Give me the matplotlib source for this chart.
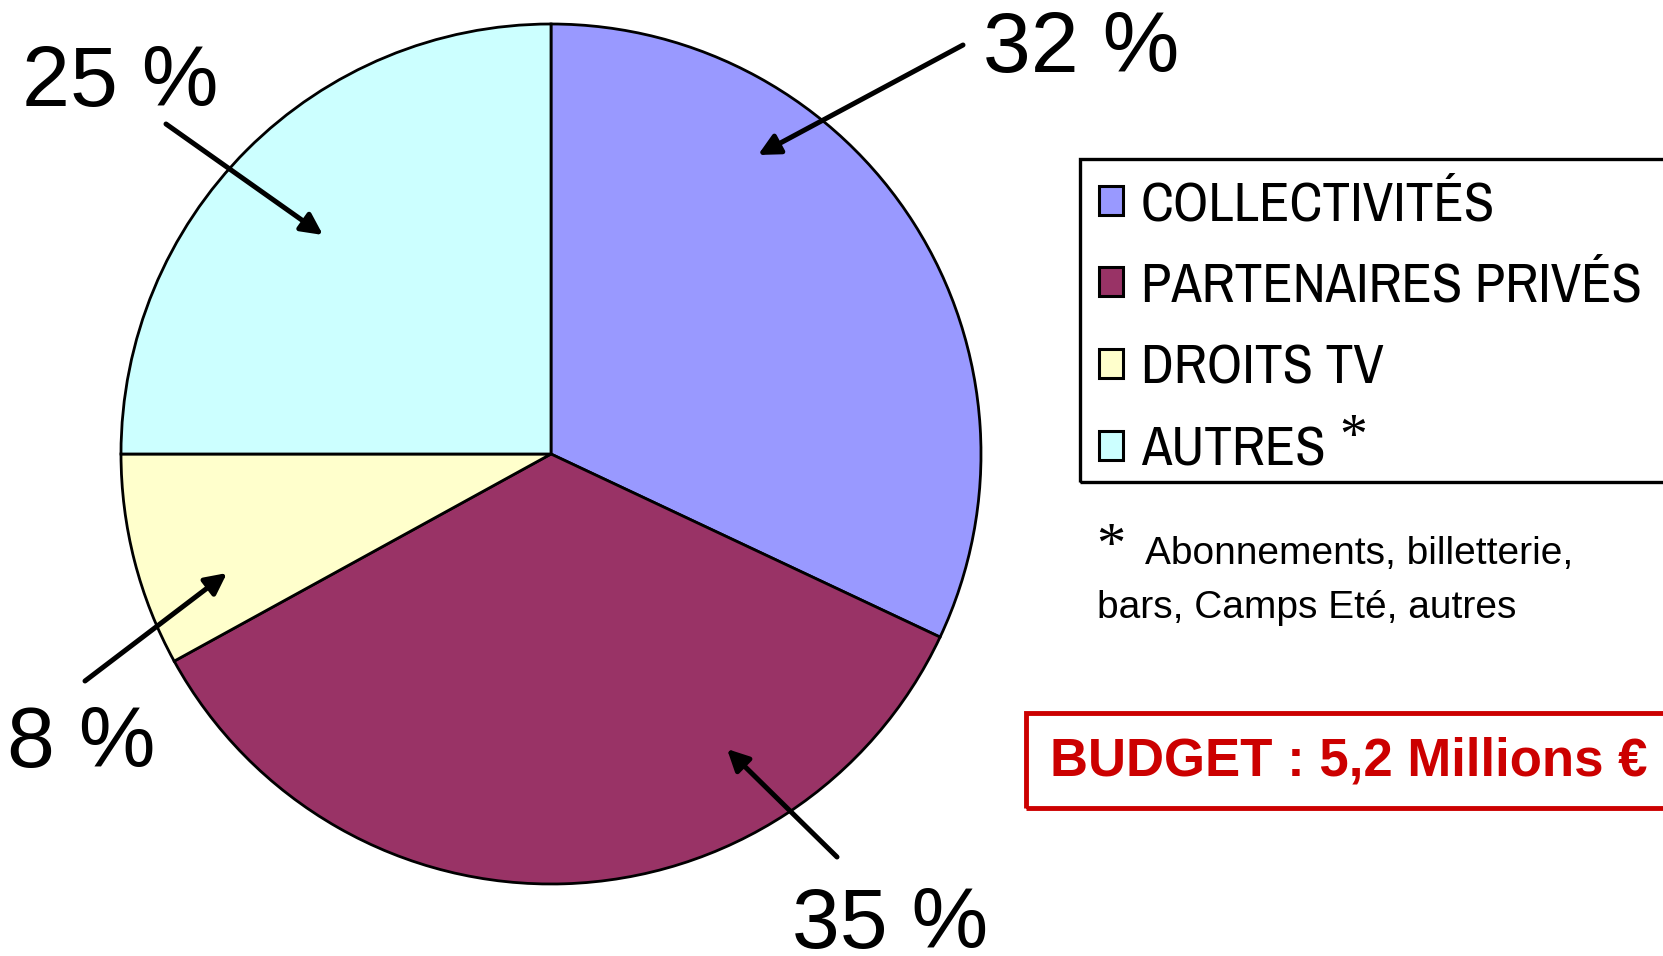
import matplotlib
matplotlib.use('Agg')
import matplotlib.pyplot as plt
from matplotlib.patches import Rectangle

# budget split
categories = ['COLLECTIVITÉS', 'PARTENAIRES PRIVÉS', 'DROITS TV', 'AUTRES']
shares = [32, 35, 8, 25]
colors = ['#9999FF', '#993366', '#FFFFCC', '#CCFFFF']
pct_labels = ['32 %', '35 %', '8 %', '25 %']
note_lines = ['Abonnements, billetterie,', 'bars, Camps Eté, autres']
budget_text = 'BUDGET : 5,2 Millions €'

W, H = 1663, 956
plt.rcParams['font.family'] = ['Liberation Sans', 'DejaVu Sans']

fig = plt.figure(figsize=(W / 100, H / 100), dpi=100)
ax = fig.add_axes([0, 0, 1, 1])

def y(v):
    # picture rows are counted from the top
    return H - v

wedges, _ = ax.pie(shares, colors=colors, startangle=90, counterclock=False,
                   center=(551, y(454)), radius=430,
                   wedgeprops=dict(edgecolor='black', linewidth=2.0))
ax.set_xlim(0, W)
ax.set_ylim(0, H)
ax.set_aspect('equal')
ax.axis('off')

# percent labels with their arrows (text pos, arrow tail, arrow head)
label_pos = [(1081, 50), (890, 926), (81, 745), (120, 84)]
arrow_tail = [(963, 45), (837, 857), (85, 681), (166, 124)]
arrow_head = [(758, 155), (727, 749), (227, 573), (323, 235)]
for lab, p, t, h in zip(pct_labels, label_pos, arrow_tail, arrow_head):
    ax.text(p[0], y(p[1]), lab, fontsize=62, ha='center', va='center')
    ax.annotate('', xy=(h[0], y(h[1])), xytext=(t[0], y(t[1])),
                arrowprops=dict(arrowstyle='-|>', lw=3.6, color='black',
                                mutation_scale=32, shrinkA=0, shrinkB=0))

# legend box runs off the right edge
ax.add_patch(Rectangle((1080, y(482)), 700, 482 - 159, fill=False,
                       edgecolor='black', linewidth=2.4, clip_on=False))
leg = ax.legend(wedges, categories, loc='upper left',
                bbox_to_anchor=(1099, y(180)), bbox_transform=ax.transData,
                frameon=False, borderpad=0, borderaxespad=0,
                handlelength=0.43, handleheight=0.43, handletextpad=0.32,
                labelspacing=0.57,
                prop=dict(family=['Liberation Sans Narrow', 'Archivo Narrow', 'Liberation Sans'], size=40))
for hnd in leg.legend_handles:
    hnd.set_linewidth(2.2)

fig.canvas.draw()
bb = leg.get_texts()[3].get_window_extent()
ax.text(bb.x1 + 14, bb.y1 - 14, '*', fontsize=40, family='Liberation Serif',
        ha='left', va='center', color='black')

# footnote
ax.text(1111, y(548), '*', fontsize=42, family='Liberation Serif', ha='center', va='center')
ax.text(1145, y(554), note_lines[0], fontsize=28, ha='left', va='center')
ax.text(1097, y(608), note_lines[1], fontsize=28, ha='left', va='center')

# budget box
ax.add_patch(Rectangle((1026, y(808)), 700, 808 - 713, fill=False,
                       edgecolor='#CC0000', linewidth=3.5, clip_on=False))
ax.text(1050, y(762), budget_text, fontsize=38, fontweight='bold',
        color='#CC0000', ha='left', va='center')

fig.savefig('out.png', dpi=100)
